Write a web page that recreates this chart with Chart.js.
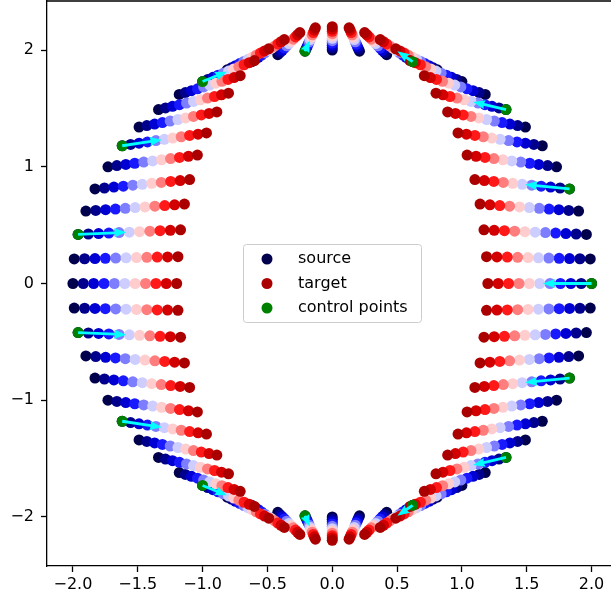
<!DOCTYPE html>
<html>
<head>
<meta charset="utf-8">
<script src="https://cdn.jsdelivr.net/npm/chart.js@4.4.1/dist/chart.umd.min.js"></script>
<style>
  body { margin: 0; overflow: hidden; background: #fff; }
  #wrap { width: 620px; height: 599px; }
</style>
</head>
<body>
<div id="wrap"><canvas id="morphChart"></canvas></div>
<script>
// points on the source circle
const sourceX = [2.00, 1.99, 1.96, 1.90, 1.83, 1.73, 1.62, 1.49, 1.34, 1.18, 1.00, 0.81, 0.62, 0.42, 0.21,
  0.00, -0.21, -0.42, -0.62, -0.81, -1.00, -1.18, -1.34, -1.49, -1.62, -1.73, -1.83, -1.90, -1.96, -1.99,
  -2.00, -1.99, -1.96, -1.90, -1.83, -1.73, -1.62, -1.49, -1.34, -1.18, -1.00, -0.81, -0.62, -0.42, -0.21,
  0.00, 0.21, 0.42, 0.62, 0.81, 1.00, 1.18, 1.34, 1.49, 1.62, 1.73, 1.83, 1.90, 1.96, 1.99];
const sourceY = [0.00, 0.21, 0.42, 0.62, 0.81, 1.00, 1.18, 1.34, 1.49, 1.62, 1.73, 1.83, 1.90, 1.96, 1.99,
  2.00, 1.99, 1.96, 1.90, 1.83, 1.73, 1.62, 1.49, 1.34, 1.18, 1.00, 0.81, 0.62, 0.42, 0.21,
  0.00, -0.21, -0.42, -0.62, -0.81, -1.00, -1.18, -1.34, -1.49, -1.62, -1.73, -1.83, -1.90, -1.96, -1.99,
  -2.00, -1.99, -1.96, -1.90, -1.83, -1.73, -1.62, -1.49, -1.34, -1.18, -1.00, -0.81, -0.62, -0.42, -0.21];

// matching points on the target ellipse
const targetX = [1.20, 1.19, 1.17, 1.14, 1.10, 1.04, 0.97, 0.89, 0.80, 0.71, 0.60, 0.49, 0.37, 0.25, 0.13,
  0.00, -0.13, -0.25, -0.37, -0.49, -0.60, -0.71, -0.80, -0.89, -0.97, -1.04, -1.10, -1.14, -1.17, -1.19,
  -1.20, -1.19, -1.17, -1.14, -1.10, -1.04, -0.97, -0.89, -0.80, -0.71, -0.60, -0.49, -0.37, -0.25, -0.13,
  0.00, 0.13, 0.25, 0.37, 0.49, 0.60, 0.71, 0.80, 0.89, 0.97, 1.04, 1.10, 1.14, 1.17, 1.19];
const targetY = [0.00, 0.23, 0.46, 0.68, 0.89, 1.10, 1.29, 1.47, 1.63, 1.78, 1.91, 2.01, 2.09, 2.15, 2.19,
  2.20, 2.19, 2.15, 2.09, 2.01, 1.91, 1.78, 1.63, 1.47, 1.29, 1.10, 0.89, 0.68, 0.46, 0.23,
  0.00, -0.23, -0.46, -0.68, -0.89, -1.10, -1.29, -1.47, -1.63, -1.78, -1.91, -2.01, -2.09, -2.15, -2.19,
  -2.20, -2.19, -2.15, -2.09, -2.01, -1.91, -1.78, -1.63, -1.47, -1.29, -1.10, -0.89, -0.68, -0.46, -0.23];

// blend steps from source (0) to target (1) and their colours
const steps = [0, 0.1, 0.2, 0.3, 0.4, 0.5, 0.6, 0.7, 0.8, 0.9, 1.0];
const stepColors = ['#00004c', '#00008c', '#0000d2', '#1919ff', '#7d7dff', '#cdcdff',
  '#ffcdcd', '#ff7d7d', '#ff1919', '#d20000', '#aa0000'];

// which source points are control points, and how far their arrows reach
const controlIdx = [0, 4, 8, 12, 16, 20, 24, 28, 32, 36, 40, 44, 48, 52, 56];
const arrowFrac = 0.47;

const xTicks = [-2.0, -1.5, -1.0, -0.5, 0.0, 0.5, 1.0, 1.5, 2.0];
const yTicks = [-2, -1, 0, 1, 2];

const legendItems = [
  { label: 'source', color: stepColors[0] },
  { label: 'target', color: stepColors[stepColors.length - 1] },
  { label: 'control points', color: '#008000' },
];

const FONT = 'DejaVu Sans';

function fmtMinus(s) {
  return s.replace('-', '\u2212');
}

const datasets = [];
steps.forEach((t, i) => {
  datasets.push({
    data: sourceX.map((sx, k) => ({
      x: sx + t * (targetX[k] - sx),
      y: sourceY[k] + t * (targetY[k] - sourceY[k]),
    })),
    backgroundColor: stepColors[i],
    borderWidth: 0,
    pointRadius: 5.5,
    order: steps.length - i,
  });
});
datasets.push({
  data: controlIdx.map((k) => ({ x: sourceX[k], y: sourceY[k] })),
  backgroundColor: '#008000',
  borderWidth: 0,
  pointRadius: 5.5,
  order: -1,
});

const framePlugin = {
  id: 'frame',
  afterDatasetsDraw(chart) {
    const { ctx, chartArea, scales } = chart;
    const xs = scales.x, ys = scales.y;
    ctx.save();
    // quiver arrows
    ctx.fillStyle = '#00ffff';
    controlIdx.forEach((k) => {
      const x0 = xs.getPixelForValue(sourceX[k]);
      const y0 = ys.getPixelForValue(sourceY[k]);
      const x1 = xs.getPixelForValue(sourceX[k] + arrowFrac * (targetX[k] - sourceX[k]));
      const y1 = ys.getPixelForValue(sourceY[k] + arrowFrac * (targetY[k] - sourceY[k]));
      const len = Math.hypot(x1 - x0, y1 - y0);
      const ang = Math.atan2(y1 - y0, x1 - x0);
      const hw = 1.4, headW = 4.5, headL = 12, headAx = 11;
      ctx.save();
      ctx.translate(x0, y0);
      ctx.rotate(ang);
      ctx.beginPath();
      if (len > headL) {
        ctx.moveTo(0, -hw);
        ctx.lineTo(len - headAx, -hw);
        ctx.lineTo(len - headL, -headW);
        ctx.lineTo(len, 0);
        ctx.lineTo(len - headL, headW);
        ctx.lineTo(len - headAx, hw);
        ctx.lineTo(0, hw);
      } else {
        const s = len / headL;
        ctx.moveTo(len, 0);
        ctx.lineTo(0, -headW * s);
        ctx.lineTo(len - headAx * s, 0);
        ctx.lineTo(0, headW * s);
      }
      ctx.closePath();
      ctx.fill();
      ctx.restore();
    });

    // top and right spines
    ctx.strokeStyle = '#000';
    ctx.lineWidth = 1.3;
    ctx.beginPath();
    ctx.moveTo(chartArea.left, chartArea.top);
    ctx.lineTo(chartArea.right, chartArea.top);
    ctx.lineTo(chartArea.right, chartArea.bottom);
    ctx.stroke();

    // legend box
    const bx = 243.5, by = 244.5, bw = 178, bh = 78;
    ctx.fillStyle = 'rgba(255,255,255,0.8)';
    ctx.strokeStyle = '#cccccc';
    ctx.lineWidth = 1;
    ctx.beginPath();
    ctx.roundRect(bx, by, bw, bh, 3);
    ctx.fill();
    ctx.stroke();
    ctx.font = '16px "' + FONT + '"';
    ctx.textBaseline = 'middle';
    ctx.textAlign = 'left';
    legendItems.forEach((item, i) => {
      const ry = 259 + i * 24.5;
      ctx.fillStyle = item.color;
      ctx.beginPath();
      ctx.arc(267, ry, 5.5, 0, Math.PI * 2);
      ctx.fill();
      ctx.fillStyle = '#000';
      ctx.fillText(item.label, 298, ry);
    });
    ctx.restore();
  },
};

new Chart(document.getElementById('morphChart'), {
  type: 'scatter',
  data: { datasets: datasets },
  options: {
    responsive: true,
    maintainAspectRatio: false,
    animation: false,
    layout: { autoPadding: false, padding: { top: 1, right: 2.5, left: 0, bottom: 0 } },
    plugins: { legend: { display: false }, tooltip: { enabled: false } },
    scales: {
      x: {
        type: 'linear',
        min: -2.2,
        max: 2.2,
        afterBuildTicks: (scale) => { scale.ticks = xTicks.map((v) => ({ value: v })); },
        afterFit: (scale) => {
          scale.height = 33;
          scale.paddingLeft = 0;
          scale.paddingRight = 0;
        },
        ticks: {
          color: '#000',
          font: { family: FONT, size: 16 },
          padding: 3,
          maxRotation: 0,
          callback: (v) => fmtMinus(Number(v).toFixed(1)),
        },
        grid: { drawOnChartArea: false, drawTicks: true, tickLength: 6, tickColor: '#000', tickWidth: 1.3 },
        border: { display: true, color: '#000', width: 1.3 },
      },
      y: {
        type: 'linear',
        min: -2.42,
        max: 2.42,
        afterBuildTicks: (scale) => { scale.ticks = yTicks.map((v) => ({ value: v })); },
        afterFit: (scale) => {
          scale.width = 47;
          scale.paddingTop = 0;
          scale.paddingBottom = 0;
        },
        ticks: {
          color: '#000',
          font: { family: FONT, size: 16 },
          padding: 7,
          callback: (v) => fmtMinus(String(v)),
        },
        grid: { drawOnChartArea: false, drawTicks: true, tickLength: 6, tickColor: '#000', tickWidth: 1.3 },
        border: { display: true, color: '#000', width: 1.3 },
      },
    },
  },
  plugins: [framePlugin],
});
</script>
</body>
</html>
